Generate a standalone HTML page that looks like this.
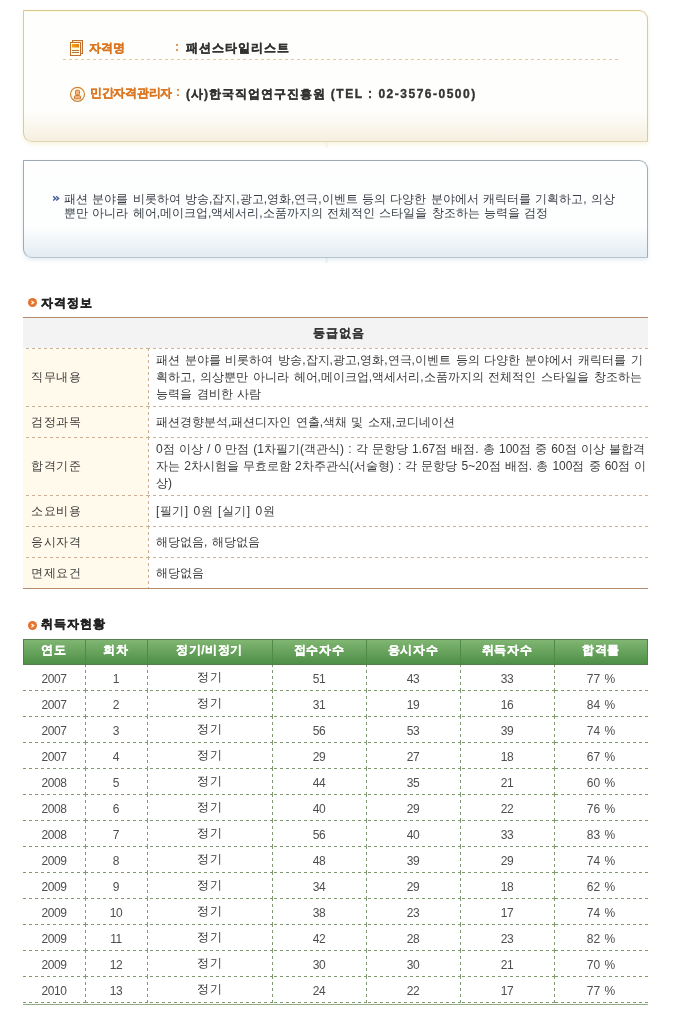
<!DOCTYPE html>
<html lang="ko">
<head>
<meta charset="utf-8">
<style>
*{margin:0;padding:0;box-sizing:border-box}
html,body{width:683px;height:1017px;overflow:hidden;background:#fff}
body{font-family:"Liberation Sans",sans-serif;font-size:12px;color:#444;position:relative}
.abs{position:absolute}
/* box 1 */
#box1{left:23px;top:10px;width:625px;height:132px;border:1px solid #d8c8a4;border-top-color:#d7c48f;border-bottom-color:#e2d5b2;border-radius:0 9px 0 9px;
 background:linear-gradient(to bottom,#fefefd 0,#fefefc 100px,#f6efe0 130px);
 box-shadow:inset 0 1px 0 #fdfbe0,0 2px 4px rgba(240,225,180,.45)}
.lbl{position:absolute;font-weight:bold;color:#db7722;white-space:nowrap;-webkit-text-stroke:0.3px #db7722}
.colon{position:absolute;font-weight:bold;color:#db7722}
.val{position:absolute;font-weight:bold;color:#333;white-space:nowrap;letter-spacing:1px;-webkit-text-stroke:.35px #333}
#dash1{left:63px;top:59px;width:555px;height:1px;background:repeating-linear-gradient(to right,#e4cb8c 0 3px,transparent 3px 6px)}
/* box 2 */
#box2{left:23px;top:160px;width:625px;height:98px;border:1px solid #9eacb7;border-bottom-color:#b6c4ce;border-radius:0 9px 0 9px;
 background:linear-gradient(to bottom,#fefefe 0,#fdfefe 66px,#e2ebf2 97px);
 box-shadow:0 2px 4px rgba(195,212,225,.45)}
#desc{left:64px;top:192px;width:570px;line-height:14px;color:#383d45;white-space:nowrap;word-spacing:1px}
#raquo{left:52px;top:192px;color:#3a5c98;font-weight:bold;font-size:11px;line-height:14px}
/* section headers */
.sh{position:absolute;font-weight:bold;color:#222;font-size:12px;letter-spacing:1px;white-space:nowrap;-webkit-text-stroke:.4px #222}
.bul{position:absolute;width:9px;height:9px;border-radius:50%;background:#e37331}
.bul svg{position:absolute;left:0;top:0}
/* table 1 */
.hdash{position:absolute;left:23px;width:625px;height:1px}
.hdash.o{background:repeating-linear-gradient(to right,transparent 0 3px,#cbb094 3px 6px)}
.hdash.g{background:repeating-linear-gradient(to right,#7f9a70 0 3px,transparent 3px 6px)}
.vdash{position:absolute;width:1px}
.vdash.o{background:repeating-linear-gradient(to bottom,#cbb094 0 3px,transparent 3px 6px)}
.vdash.g{background:repeating-linear-gradient(to bottom,#7f9a70 0 5px,transparent 5px 8px,#7f9a70 8px 11px,transparent 11px 14px,#7f9a70 14px 17px,transparent 17px 20px,#7f9a70 20px 23px,transparent 23px 26px)}
.hd1{text-align:center;font-weight:bold;color:#333;letter-spacing:1px;padding-left:7px;-webkit-text-stroke:.15px #333}
.k1{position:absolute;left:31px;color:#3a3a3a;white-space:nowrap;letter-spacing:.5px}
.v1{position:absolute;left:156px;color:#3a3a3a;white-space:nowrap;line-height:16.8px;word-spacing:1px}
.hd{position:absolute;height:1px;background-size:6px 1px;background-position:right top;background-repeat:repeat-x}
.hd.o{background-image:linear-gradient(to right,transparent 0 3px,#cbb094 3px 6px)}
.hd.g{background-image:linear-gradient(to right,transparent 0 3px,#7f9a70 3px 6px)}
.vd{position:absolute;width:1px;background-size:1px 6px;background-position:left top;background-repeat:repeat-y}
.vd.o{background-image:linear-gradient(to bottom,#cbb094 0 3px,transparent 3px 6px)}
/* table 2 */
.ghd{background:linear-gradient(to bottom,#80b672,#4e8f46);border:1px solid #557f4e}
.th2{height:24px;line-height:24px;text-align:center;color:#fff;font-weight:bold;letter-spacing:.6px;-webkit-text-stroke:.25px #fff}
.td2{height:25px;line-height:25px;text-align:center;color:#4e4e4e;padding-top:2px;letter-spacing:-.4px}
.td2.pc{letter-spacing:0;word-spacing:1px}
.td2.kr{color:#333;padding-top:0;letter-spacing:1.5px;text-indent:1.5px}
</style>
</head>
<body><div style="position:absolute;left:0;top:0;width:683px;height:1017px;will-change:transform">
<div id="box1" class="abs"></div>
<!-- icon 1 -->
<svg class="abs" style="left:69px;top:39px" width="16" height="18" viewBox="0 0 16 18">
 <defs><linearGradient id="og" x1="0" y1="0" x2="1" y2="0"><stop offset="0" stop-color="#f7a410"/><stop offset="1" stop-color="#e77a10"/></linearGradient></defs>
 <rect x="3.5" y="1.5" width="10" height="13" fill="#ffe6bc" stroke="#c07030"/>
 <rect x="1.5" y="3.5" width="10" height="13" fill="#fffbdc" stroke="#c07030"/>
 <rect x="3" y="5" width="7" height="3.5" fill="url(#og)"/>
 <rect x="3" y="11" width="7" height="1" fill="#b07840"/>
 <rect x="3" y="13" width="7" height="1" fill="#b07840"/>
</svg>
<div class="lbl" style="left:89px;top:40px">자격명</div>
<div class="colon" style="left:175px;top:40px">:</div>
<div class="val" style="left:186px;top:40px">패션스타일리스트</div>
<div id="dash1" class="abs"></div>
<!-- icon 2 -->
<svg class="abs" style="left:69px;top:86px" width="17" height="17" viewBox="0 0 17 17">
 <circle cx="8.5" cy="8.3" r="7" fill="#fffdea" stroke="#cf8438" stroke-width="1.2"/>
 <path d="M5.5 12.8 V10.8 Q5.5 9.6 6.8 9.6 H10.2 Q11.5 9.6 11.5 10.8 V12.8 Z" fill="#f9b47e" stroke="#c8783a" stroke-width="1"/>
 <rect x="6.5" y="4.2" width="4" height="4.6" rx="1" fill="#f9b47e" stroke="#c8783a" stroke-width="1"/>
</svg>
<div class="lbl" style="left:90px;top:85px;letter-spacing:-0.3px">민간자격관리자</div>
<div class="colon" style="left:176px;top:85px">:</div>
<div class="val" style="left:186px;top:86px">(사)한국직업연구진흥원<span style="letter-spacing:1.5px"> (TEL : 02-3576-0500)</span></div>

<div class="abs" style="left:325px;top:142px;width:3px;height:6px;background:rgba(235,220,180,.2)"></div>
<div class="abs" style="left:325px;top:258px;width:3px;height:5px;background:rgba(185,205,222,.2)"></div>
<div id="box2" class="abs"></div>
<svg class="abs" style="left:52px;top:195px" width="8" height="7" viewBox="0 0 8 7"><path d="M1.2 1.2 L3.6 3.4 L1.2 5.6 M4.2 1.2 L6.6 3.4 L4.2 5.6" fill="none" stroke="#3d5d99" stroke-width="1.4"/></svg>
<div id="desc" class="abs">패션 분야를 비롯하여 방송,잡지,광고,영화,연극,이벤트 등의 다양한 분야에서 캐릭터를 기획하고, 의상<br>뿐만 아니라 헤어,메이크업,액세서리,소품까지의 전체적인 스타일을 창조하는 능력을 검정</div>

<div class="bul" style="left:28px;top:298px"><svg width="9" height="9"><path d="M3.4 3 L5.6 4.6 L3.4 6.2" fill="none" stroke="#fff4d0" stroke-width="1.5"/></svg></div>
<div class="sh" style="left:41px;top:295px">자격정보</div>

<div id="t1">
<div class="abs" style="left:23px;top:317px;width:625px;height:1px;background:#b68b6d"></div>
<div class="abs" style="left:23px;top:318px;width:625px;height:30px;background:#f3f3f3"></div>
<div class="abs hd1" style="left:23px;top:318px;width:625px;height:30px;line-height:30px">등급없음</div>
<div class="abs" style="left:23px;top:349px;width:125px;height:239px;background:#fffaeb"></div>
<div class="hd o" style="left:23px;top:348px;width:126px"></div>
<div class="hd o" style="left:148px;top:348px;width:500px"></div>
<div class="hd o" style="left:23px;top:406px;width:126px"></div>
<div class="hd o" style="left:148px;top:406px;width:500px"></div>
<div class="hd o" style="left:23px;top:437px;width:126px"></div>
<div class="hd o" style="left:148px;top:437px;width:500px"></div>
<div class="hd o" style="left:23px;top:495px;width:126px"></div>
<div class="hd o" style="left:148px;top:495px;width:500px"></div>
<div class="hd o" style="left:23px;top:526px;width:126px"></div>
<div class="hd o" style="left:148px;top:526px;width:500px"></div>
<div class="hd o" style="left:23px;top:557px;width:126px"></div>
<div class="hd o" style="left:148px;top:557px;width:500px"></div>
<div class="vd o" style="left:148px;top:348px;height:58px"></div>
<div class="vd o" style="left:148px;top:406px;height:31px"></div>
<div class="vd o" style="left:148px;top:437px;height:58px"></div>
<div class="vd o" style="left:148px;top:495px;height:31px"></div>
<div class="vd o" style="left:148px;top:526px;height:31px"></div>
<div class="vd o" style="left:148px;top:557px;height:31px"></div>
<div class="abs" style="left:23px;top:588px;width:625px;height:1px;background:#b68b6d"></div>
<div class="k1" style="top:349px;height:57px;line-height:57px">직무내용</div>
<div class="k1" style="top:407px;height:30px;line-height:30px">검정과목</div>
<div class="k1" style="top:438px;height:57px;line-height:57px">합격기준</div>
<div class="k1" style="top:496px;height:30px;line-height:30px">소요비용</div>
<div class="k1" style="top:527px;height:30px;line-height:30px">응시자격</div>
<div class="k1" style="top:558px;height:30px;line-height:30px">면제요건</div>
<div class="v1" style="top:352px;word-spacing:1.4px">패션 분야를 비롯하여 방송,잡지,광고,영화,연극,이벤트 등의 다양한 분야에서 캐릭터를 기<br>획하고, 의상뿐만 아니라 헤어,메이크업,액세서리,소품까지의 전체적인 스타일을 창조하는<br>능력을 겸비한 사람</div>
<div class="v1" style="top:407px;line-height:30px">패션경향분석,패션디자인 연출,색채 및 소재,코디네이션</div>
<div class="v1" style="top:441px;word-spacing:.8px">0점 이상 / 0 만점 (1차필기(객관식) : 각 문항당 1.67점 배점. 총 100점 중 60점 이상 불합격<br>자는 2차시험을 무효로함 2차주관식(서술형) : 각 문항당 5~20점 배점. 총 100점 중 60점 이<br>상)</div>
<div class="v1" style="top:496px;line-height:30px;letter-spacing:.5px">[필기] 0원 [실기] 0원</div>
<div class="v1" style="top:527px;line-height:30px">해당없음, 해당없음</div>
<div class="v1" style="top:558px;line-height:30px">해당없음</div>
</div>

<div class="bul" style="left:28px;top:621px"><svg width="9" height="9"><path d="M3.4 3 L5.6 4.6 L3.4 6.2" fill="none" stroke="#fff4d0" stroke-width="1.5"/></svg></div>
<div class="sh" style="left:41px;top:616px">취득자현황</div>

<div id="t2">
<div class="vdash g" style="left:85px;top:662px;height:341px"></div>
<div class="vdash g" style="left:147px;top:662px;height:341px"></div>
<div class="vdash g" style="left:272px;top:662px;height:341px"></div>
<div class="vdash g" style="left:366px;top:662px;height:341px"></div>
<div class="vdash g" style="left:460px;top:662px;height:341px"></div>
<div class="vdash g" style="left:554px;top:662px;height:341px"></div>
<div class="abs ghd" style="left:23px;top:639px;width:625px;height:26px"></div>
<div class="abs" style="left:85px;top:640px;width:1px;height:24px;background:#4f8a47"></div>
<div class="abs" style="left:147px;top:640px;width:1px;height:24px;background:#4f8a47"></div>
<div class="abs" style="left:272px;top:640px;width:1px;height:24px;background:#4f8a47"></div>
<div class="abs" style="left:366px;top:640px;width:1px;height:24px;background:#4f8a47"></div>
<div class="abs" style="left:460px;top:640px;width:1px;height:24px;background:#4f8a47"></div>
<div class="abs" style="left:554px;top:640px;width:1px;height:24px;background:#4f8a47"></div>
<div class="abs th2" style="left:23px;top:638px;width:62px">연도</div>
<div class="abs th2" style="left:85px;top:638px;width:62px">회차</div>
<div class="abs th2" style="left:147px;top:638px;width:125px">정기/비정기</div>
<div class="abs th2" style="left:272px;top:638px;width:94px">접수자수</div>
<div class="abs th2" style="left:366px;top:638px;width:94px">응시자수</div>
<div class="abs th2" style="left:460px;top:638px;width:94px">취득자수</div>
<div class="abs th2" style="left:554px;top:638px;width:94px">합격률</div>
<div class="abs td2" style="left:23px;top:665px;width:62px">2007</div>
<div class="abs td2" style="left:85px;top:665px;width:62px">1</div>
<div class="abs td2 kr" style="left:147px;top:665px;width:125px">정기</div>
<div class="abs td2" style="left:272px;top:665px;width:94px">51</div>
<div class="abs td2" style="left:366px;top:665px;width:94px">43</div>
<div class="abs td2" style="left:460px;top:665px;width:94px">33</div>
<div class="abs td2 pc" style="left:554px;top:665px;width:94px">77 %</div>
<div class="abs td2" style="left:23px;top:691px;width:62px">2007</div>
<div class="abs td2" style="left:85px;top:691px;width:62px">2</div>
<div class="abs td2 kr" style="left:147px;top:691px;width:125px">정기</div>
<div class="abs td2" style="left:272px;top:691px;width:94px">31</div>
<div class="abs td2" style="left:366px;top:691px;width:94px">19</div>
<div class="abs td2" style="left:460px;top:691px;width:94px">16</div>
<div class="abs td2 pc" style="left:554px;top:691px;width:94px">84 %</div>
<div class="abs td2" style="left:23px;top:717px;width:62px">2007</div>
<div class="abs td2" style="left:85px;top:717px;width:62px">3</div>
<div class="abs td2 kr" style="left:147px;top:717px;width:125px">정기</div>
<div class="abs td2" style="left:272px;top:717px;width:94px">56</div>
<div class="abs td2" style="left:366px;top:717px;width:94px">53</div>
<div class="abs td2" style="left:460px;top:717px;width:94px">39</div>
<div class="abs td2 pc" style="left:554px;top:717px;width:94px">74 %</div>
<div class="abs td2" style="left:23px;top:743px;width:62px">2007</div>
<div class="abs td2" style="left:85px;top:743px;width:62px">4</div>
<div class="abs td2 kr" style="left:147px;top:743px;width:125px">정기</div>
<div class="abs td2" style="left:272px;top:743px;width:94px">29</div>
<div class="abs td2" style="left:366px;top:743px;width:94px">27</div>
<div class="abs td2" style="left:460px;top:743px;width:94px">18</div>
<div class="abs td2 pc" style="left:554px;top:743px;width:94px">67 %</div>
<div class="abs td2" style="left:23px;top:769px;width:62px">2008</div>
<div class="abs td2" style="left:85px;top:769px;width:62px">5</div>
<div class="abs td2 kr" style="left:147px;top:769px;width:125px">정기</div>
<div class="abs td2" style="left:272px;top:769px;width:94px">44</div>
<div class="abs td2" style="left:366px;top:769px;width:94px">35</div>
<div class="abs td2" style="left:460px;top:769px;width:94px">21</div>
<div class="abs td2 pc" style="left:554px;top:769px;width:94px">60 %</div>
<div class="abs td2" style="left:23px;top:795px;width:62px">2008</div>
<div class="abs td2" style="left:85px;top:795px;width:62px">6</div>
<div class="abs td2 kr" style="left:147px;top:795px;width:125px">정기</div>
<div class="abs td2" style="left:272px;top:795px;width:94px">40</div>
<div class="abs td2" style="left:366px;top:795px;width:94px">29</div>
<div class="abs td2" style="left:460px;top:795px;width:94px">22</div>
<div class="abs td2 pc" style="left:554px;top:795px;width:94px">76 %</div>
<div class="abs td2" style="left:23px;top:821px;width:62px">2008</div>
<div class="abs td2" style="left:85px;top:821px;width:62px">7</div>
<div class="abs td2 kr" style="left:147px;top:821px;width:125px">정기</div>
<div class="abs td2" style="left:272px;top:821px;width:94px">56</div>
<div class="abs td2" style="left:366px;top:821px;width:94px">40</div>
<div class="abs td2" style="left:460px;top:821px;width:94px">33</div>
<div class="abs td2 pc" style="left:554px;top:821px;width:94px">83 %</div>
<div class="abs td2" style="left:23px;top:847px;width:62px">2009</div>
<div class="abs td2" style="left:85px;top:847px;width:62px">8</div>
<div class="abs td2 kr" style="left:147px;top:847px;width:125px">정기</div>
<div class="abs td2" style="left:272px;top:847px;width:94px">48</div>
<div class="abs td2" style="left:366px;top:847px;width:94px">39</div>
<div class="abs td2" style="left:460px;top:847px;width:94px">29</div>
<div class="abs td2 pc" style="left:554px;top:847px;width:94px">74 %</div>
<div class="abs td2" style="left:23px;top:873px;width:62px">2009</div>
<div class="abs td2" style="left:85px;top:873px;width:62px">9</div>
<div class="abs td2 kr" style="left:147px;top:873px;width:125px">정기</div>
<div class="abs td2" style="left:272px;top:873px;width:94px">34</div>
<div class="abs td2" style="left:366px;top:873px;width:94px">29</div>
<div class="abs td2" style="left:460px;top:873px;width:94px">18</div>
<div class="abs td2 pc" style="left:554px;top:873px;width:94px">62 %</div>
<div class="abs td2" style="left:23px;top:899px;width:62px">2009</div>
<div class="abs td2" style="left:85px;top:899px;width:62px">10</div>
<div class="abs td2 kr" style="left:147px;top:899px;width:125px">정기</div>
<div class="abs td2" style="left:272px;top:899px;width:94px">38</div>
<div class="abs td2" style="left:366px;top:899px;width:94px">23</div>
<div class="abs td2" style="left:460px;top:899px;width:94px">17</div>
<div class="abs td2 pc" style="left:554px;top:899px;width:94px">74 %</div>
<div class="abs td2" style="left:23px;top:925px;width:62px">2009</div>
<div class="abs td2" style="left:85px;top:925px;width:62px">11</div>
<div class="abs td2 kr" style="left:147px;top:925px;width:125px">정기</div>
<div class="abs td2" style="left:272px;top:925px;width:94px">42</div>
<div class="abs td2" style="left:366px;top:925px;width:94px">28</div>
<div class="abs td2" style="left:460px;top:925px;width:94px">23</div>
<div class="abs td2 pc" style="left:554px;top:925px;width:94px">82 %</div>
<div class="abs td2" style="left:23px;top:951px;width:62px">2009</div>
<div class="abs td2" style="left:85px;top:951px;width:62px">12</div>
<div class="abs td2 kr" style="left:147px;top:951px;width:125px">정기</div>
<div class="abs td2" style="left:272px;top:951px;width:94px">30</div>
<div class="abs td2" style="left:366px;top:951px;width:94px">30</div>
<div class="abs td2" style="left:460px;top:951px;width:94px">21</div>
<div class="abs td2 pc" style="left:554px;top:951px;width:94px">70 %</div>
<div class="abs td2" style="left:23px;top:977px;width:62px">2010</div>
<div class="abs td2" style="left:85px;top:977px;width:62px">13</div>
<div class="abs td2 kr" style="left:147px;top:977px;width:125px">정기</div>
<div class="abs td2" style="left:272px;top:977px;width:94px">24</div>
<div class="abs td2" style="left:366px;top:977px;width:94px">22</div>
<div class="abs td2" style="left:460px;top:977px;width:94px">17</div>
<div class="abs td2 pc" style="left:554px;top:977px;width:94px">77 %</div>
<div class="hd g" style="left:23px;top:690px;width:63px"></div>
<div class="hd g" style="left:85px;top:690px;width:63px"></div>
<div class="hd g" style="left:147px;top:690px;width:126px"></div>
<div class="hd g" style="left:272px;top:690px;width:95px"></div>
<div class="hd g" style="left:366px;top:690px;width:95px"></div>
<div class="hd g" style="left:460px;top:690px;width:95px"></div>
<div class="hd g" style="left:554px;top:690px;width:94px"></div>
<div class="hd g" style="left:23px;top:716px;width:63px"></div>
<div class="hd g" style="left:85px;top:716px;width:63px"></div>
<div class="hd g" style="left:147px;top:716px;width:126px"></div>
<div class="hd g" style="left:272px;top:716px;width:95px"></div>
<div class="hd g" style="left:366px;top:716px;width:95px"></div>
<div class="hd g" style="left:460px;top:716px;width:95px"></div>
<div class="hd g" style="left:554px;top:716px;width:94px"></div>
<div class="hd g" style="left:23px;top:742px;width:63px"></div>
<div class="hd g" style="left:85px;top:742px;width:63px"></div>
<div class="hd g" style="left:147px;top:742px;width:126px"></div>
<div class="hd g" style="left:272px;top:742px;width:95px"></div>
<div class="hd g" style="left:366px;top:742px;width:95px"></div>
<div class="hd g" style="left:460px;top:742px;width:95px"></div>
<div class="hd g" style="left:554px;top:742px;width:94px"></div>
<div class="hd g" style="left:23px;top:768px;width:63px"></div>
<div class="hd g" style="left:85px;top:768px;width:63px"></div>
<div class="hd g" style="left:147px;top:768px;width:126px"></div>
<div class="hd g" style="left:272px;top:768px;width:95px"></div>
<div class="hd g" style="left:366px;top:768px;width:95px"></div>
<div class="hd g" style="left:460px;top:768px;width:95px"></div>
<div class="hd g" style="left:554px;top:768px;width:94px"></div>
<div class="hd g" style="left:23px;top:794px;width:63px"></div>
<div class="hd g" style="left:85px;top:794px;width:63px"></div>
<div class="hd g" style="left:147px;top:794px;width:126px"></div>
<div class="hd g" style="left:272px;top:794px;width:95px"></div>
<div class="hd g" style="left:366px;top:794px;width:95px"></div>
<div class="hd g" style="left:460px;top:794px;width:95px"></div>
<div class="hd g" style="left:554px;top:794px;width:94px"></div>
<div class="hd g" style="left:23px;top:820px;width:63px"></div>
<div class="hd g" style="left:85px;top:820px;width:63px"></div>
<div class="hd g" style="left:147px;top:820px;width:126px"></div>
<div class="hd g" style="left:272px;top:820px;width:95px"></div>
<div class="hd g" style="left:366px;top:820px;width:95px"></div>
<div class="hd g" style="left:460px;top:820px;width:95px"></div>
<div class="hd g" style="left:554px;top:820px;width:94px"></div>
<div class="hd g" style="left:23px;top:846px;width:63px"></div>
<div class="hd g" style="left:85px;top:846px;width:63px"></div>
<div class="hd g" style="left:147px;top:846px;width:126px"></div>
<div class="hd g" style="left:272px;top:846px;width:95px"></div>
<div class="hd g" style="left:366px;top:846px;width:95px"></div>
<div class="hd g" style="left:460px;top:846px;width:95px"></div>
<div class="hd g" style="left:554px;top:846px;width:94px"></div>
<div class="hd g" style="left:23px;top:872px;width:63px"></div>
<div class="hd g" style="left:85px;top:872px;width:63px"></div>
<div class="hd g" style="left:147px;top:872px;width:126px"></div>
<div class="hd g" style="left:272px;top:872px;width:95px"></div>
<div class="hd g" style="left:366px;top:872px;width:95px"></div>
<div class="hd g" style="left:460px;top:872px;width:95px"></div>
<div class="hd g" style="left:554px;top:872px;width:94px"></div>
<div class="hd g" style="left:23px;top:898px;width:63px"></div>
<div class="hd g" style="left:85px;top:898px;width:63px"></div>
<div class="hd g" style="left:147px;top:898px;width:126px"></div>
<div class="hd g" style="left:272px;top:898px;width:95px"></div>
<div class="hd g" style="left:366px;top:898px;width:95px"></div>
<div class="hd g" style="left:460px;top:898px;width:95px"></div>
<div class="hd g" style="left:554px;top:898px;width:94px"></div>
<div class="hd g" style="left:23px;top:924px;width:63px"></div>
<div class="hd g" style="left:85px;top:924px;width:63px"></div>
<div class="hd g" style="left:147px;top:924px;width:126px"></div>
<div class="hd g" style="left:272px;top:924px;width:95px"></div>
<div class="hd g" style="left:366px;top:924px;width:95px"></div>
<div class="hd g" style="left:460px;top:924px;width:95px"></div>
<div class="hd g" style="left:554px;top:924px;width:94px"></div>
<div class="hd g" style="left:23px;top:950px;width:63px"></div>
<div class="hd g" style="left:85px;top:950px;width:63px"></div>
<div class="hd g" style="left:147px;top:950px;width:126px"></div>
<div class="hd g" style="left:272px;top:950px;width:95px"></div>
<div class="hd g" style="left:366px;top:950px;width:95px"></div>
<div class="hd g" style="left:460px;top:950px;width:95px"></div>
<div class="hd g" style="left:554px;top:950px;width:94px"></div>
<div class="hd g" style="left:23px;top:976px;width:63px"></div>
<div class="hd g" style="left:85px;top:976px;width:63px"></div>
<div class="hd g" style="left:147px;top:976px;width:126px"></div>
<div class="hd g" style="left:272px;top:976px;width:95px"></div>
<div class="hd g" style="left:366px;top:976px;width:95px"></div>
<div class="hd g" style="left:460px;top:976px;width:95px"></div>
<div class="hd g" style="left:554px;top:976px;width:94px"></div>
<div class="hd g" style="left:23px;top:1002px;width:63px"></div>
<div class="hd g" style="left:85px;top:1002px;width:63px"></div>
<div class="hd g" style="left:147px;top:1002px;width:126px"></div>
<div class="hd g" style="left:272px;top:1002px;width:95px"></div>
<div class="hd g" style="left:366px;top:1002px;width:95px"></div>
<div class="hd g" style="left:460px;top:1002px;width:95px"></div>
<div class="hd g" style="left:554px;top:1002px;width:94px"></div>
<div class="abs" style="left:23px;top:1004px;width:625px;height:1px;background:#94ab86"></div>
</div>
</div></body>
</html>
